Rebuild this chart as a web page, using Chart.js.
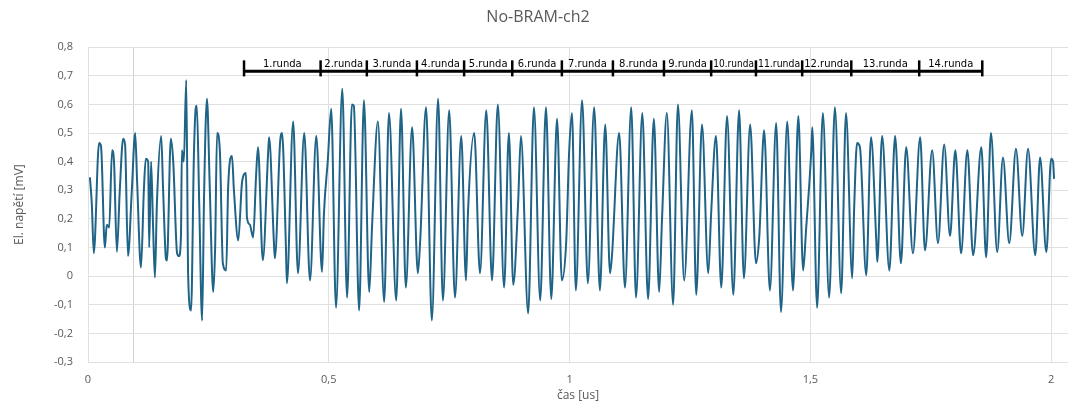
<!DOCTYPE html>
<html>
<head>
<meta charset="utf-8">
<script src="https://cdn.jsdelivr.net/npm/chart.js@4.4.1/dist/chart.umd.min.js"></script>
<style>
  html, body { margin: 0; padding: 0; background: #ffffff; }
  #wrap { width: 1077px; height: 403px; position: relative; }
</style>
</head>
<body>
<div id="wrap"><canvas id="c"></canvas></div>
<script>
// ---- data ----
const timeUs = [
  0.004,0.008,0.012,0.023,0.027,0.035,0.039,0.044,0.050,0.054,0.060,0.066,0.073,0.077,0.083,0.091,0.098,0.102,
  0.110,0.116,0.120,0.125,0.127,0.131,0.135,0.139,0.143,0.152,0.156,0.162,0.164,0.172,0.177,0.185,0.189,0.193,
  0.195,0.199,0.204,0.208,0.214,0.220,0.224,0.226,0.231,0.237,0.241,0.247,0.253,0.260,0.264,0.268,0.274,0.280,
  0.287,0.291,0.299,0.303,0.312,0.320,0.328,0.330,0.336,0.343,0.349,0.353,0.363,0.374,0.376,0.386,0.388,0.399,
  0.403,0.411,0.413,0.426,0.436,0.449,0.461,0.474,0.486,0.490,0.498,0.505,0.515,0.528,0.538,0.548,0.552,0.563,
  0.573,0.584,0.590,0.602,0.615,0.625,0.640,0.650,0.660,0.673,0.685,0.690,0.702,0.714,0.727,0.737,0.750,0.762,
  0.775,0.785,0.789,0.802,0.814,0.827,0.839,0.851,0.864,0.874,0.883,0.893,0.899,0.914,0.926,0.939,0.951,0.962,
  0.974,0.984,0.993,0.999,1.005,1.013,1.026,1.038,1.051,1.063,1.074,1.084,1.088,1.103,1.115,1.128,1.138,1.151,
  1.163,1.175,1.186,1.192,1.202,1.215,1.225,1.238,1.254,1.263,1.275,1.288,1.294,1.304,1.315,1.327,1.340,1.352,
  1.362,1.375,1.387,1.394,1.404,1.416,1.429,1.439,1.452,1.464,1.475,1.485,1.491,1.502,1.504,1.514,1.526,1.539,
  1.551,1.564,1.574,1.587,1.591,1.597,1.603,1.616,1.626,1.637,1.639,1.649,1.664,1.676,1.688,1.699,1.713,1.728,
  1.738,1.753,1.765,1.778,1.790,1.801,1.813,1.826,1.838,1.855,1.865,1.875,1.888,1.900,1.913,1.927,1.940,1.952,
  1.967,1.977,1.990,2.000,2.004,2.006
];
const voltageMv = [
  0.345,0.25,0.08,0.465,0.455,0.10,0.18,0.17,0.44,0.40,0.085,0.30,0.48,0.46,0.07,0.30,0.50,0.33,
  0.03,0.30,0.41,0.40,0.10,0.40,0.18,-0.005,0.25,0.49,0.30,0.06,0.055,0.48,0.40,0.08,0.07,0.14,
  0.44,0.40,0.685,0.0,-0.12,0.43,0.59,0.595,0.25,-0.155,0.28,0.62,0.30,-0.055,0.10,0.50,0.43,0.045,
  0.02,0.31,0.42,0.30,0.125,0.33,0.36,0.205,0.18,0.135,0.35,0.45,0.056,0.43,0.485,0.12,0.063,0.47,
  0.50,0.10,-0.025,0.54,0.01,0.50,-0.015,0.49,0.015,0.22,0.405,0.585,-0.11,0.655,-0.075,0.60,0.595,-0.12,
  0.615,-0.055,0.18,0.54,-0.09,0.57,-0.085,0.585,-0.04,0.52,0.01,0.13,0.59,-0.155,0.62,-0.085,0.58,-0.075,
  0.49,-0.015,0.22,0.50,0.01,0.58,-0.015,0.60,-0.04,0.50,-0.03,0.25,0.49,-0.13,0.59,-0.085,0.59,-0.08,
  0.55,-0.015,0.12,0.43,0.57,-0.05,0.615,-0.025,0.59,-0.05,0.53,0.01,0.07,0.50,-0.04,0.59,-0.075,0.57,
  -0.08,0.55,-0.055,0.20,0.57,-0.10,0.60,-0.015,0.58,-0.065,0.53,0.01,0.22,0.49,-0.04,0.56,-0.065,0.58,
  -0.007,0.53,0.045,0.14,0.51,-0.05,0.535,-0.125,0.54,-0.05,0.56,0.02,0.16,0.44,0.52,-0.11,0.57,-0.075,
  0.59,-0.06,0.57,-0.007,0.24,0.465,0.45,0.003,0.485,0.12,0.05,0.49,0.02,0.49,0.045,0.45,0.08,0.485,
  0.09,0.44,0.115,0.46,0.14,0.44,0.08,0.44,0.073,0.45,0.066,0.50,0.084,0.415,0.115,0.445,0.14,0.445,
  0.073,0.415,0.084,0.41,0.40,0.34
];
const xTickValues = [0, 0.5, 1, 1.5, 2];
const xExtraLine = 0.095;
const rundaBounds = [0.324,0.483,0.579,0.683,0.781,0.881,0.984,1.090,1.196,1.294,1.387,1.483,1.585,1.726,1.857];
const rundaLabels = ['1.runda','2.runda','3.runda','4.runda','5.runda','6.runda','7.runda','8.runda','9.runda','10.runda','11.runda','12.runda','13.runda','14.runda'];
const rundaBarLevel = 0.716;
const rundaTickTop = 0.754;
const rundaTickBottom = 0.698;

const fmt = v => { const r = Math.round(v * 10) / 10; return String(r).replace('.', ','); };

const rundaPlugin = {
  id: 'runda',
  afterDatasetsDraw(chart) {
    const ctx = chart.ctx, xs = chart.scales.x, ys = chart.scales.y;
    const yBar = ys.getPixelForValue(rundaBarLevel);
    const yT = ys.getPixelForValue(rundaTickTop);
    const yB = ys.getPixelForValue(rundaTickBottom);
    ctx.save();
    ctx.strokeStyle = '#000';
    ctx.lineWidth = 3;
    ctx.beginPath();
    ctx.moveTo(xs.getPixelForValue(rundaBounds[0]), yBar);
    ctx.lineTo(xs.getPixelForValue(rundaBounds[rundaBounds.length - 1]), yBar);
    ctx.stroke();
    ctx.lineWidth = 2.5;
    rundaBounds.forEach(b => {
      const px = xs.getPixelForValue(b);
      ctx.beginPath(); ctx.moveTo(px, yT); ctx.lineTo(px, yB); ctx.stroke();
    });
    ctx.fillStyle = '#000';
    ctx.font = '10px "DejaVu Sans", Verdana, sans-serif';
    ctx.textAlign = 'center';
    ctx.textBaseline = 'alphabetic';
    rundaLabels.forEach((lab, i) => {
      const a = xs.getPixelForValue(rundaBounds[i]);
      const b = xs.getPixelForValue(rundaBounds[i + 1]);
      const w = ctx.measureText(lab).width;
      const maxW = b - a - 4;
      if (w > maxW) {
        ctx.save();
        ctx.translate((a + b) / 2, yBar - 4);
        ctx.scale(maxW / w, 1);
        ctx.fillText(lab, 0, 0);
        ctx.restore();
      } else {
        ctx.fillText(lab, (a + b) / 2, yBar - 4);
      }
    });
    ctx.restore();
  }
};

const points = timeUs.map((t, i) => ({ x: t, y: voltageMv[i] }));
const gray = '#595959';
const fontFam = '"Open Sans", "Noto Sans", sans-serif';

new Chart(document.getElementById('c'), {
  type: 'line',
  data: { datasets: [{
    data: points,
    borderColor: '#1f6387',
    borderWidth: 2,
    pointRadius: 0,
    cubicInterpolationMode: 'monotone',
    fill: false
  }]},
  options: {
    responsive: true,
    maintainAspectRatio: false,
    animation: false,
    layout: { padding: { left: 8, right: 9, top: 0, bottom: 0 } },
    plugins: {
      legend: { display: false },
      tooltip: { enabled: false },
      title: {
        display: true,
        text: 'No-BRAM-ch2',
        color: gray,
        font: { family: fontFam, size: 16, weight: 'normal' },
        padding: { top: 8, bottom: 20 }
      }
    },
    scales: {
      x: {
        type: 'linear',
        min: 0,
        max: 2.035,
        afterBuildTicks(scale) {
          scale.ticks = [{ value: xExtraLine }].concat(xTickValues.map(v => ({ value: v })));
        },
        afterFit(scale) { scale.height = 41; },
        ticks: {
          color: gray,
          font: { family: fontFam, size: 11 },
          padding: 11,
          maxRotation: 0,
          autoSkip: false,
          callback: v => (v === xExtraLine ? '' : fmt(v))
        },
        grid: { color: ctx => (ctx.tick && ctx.tick.value === xExtraLine ? '#d0d0d0' : '#e0e0e0'), drawTicks: false, lineWidth: 1 },
        border: { display: false },
        title: {
          display: true,
          text: 'čas [us]',
          color: gray,
          font: { family: fontFam, size: 12 },
          padding: { top: 0, bottom: 0 }
        }
      },
      y: {
        min: -0.3,
        max: 0.8,
        afterFit(scale) { scale.width = 80; },
        ticks: {
          stepSize: 0.1,
          color: gray,
          font: { family: fontFam, size: 11 },
          padding: 15,
          callback: v => fmt(v)
        },
        grid: { color: '#e0e0e0', drawTicks: false, lineWidth: 1 },
        border: { display: false },
        title: {
          display: true,
          text: 'El. napětí [mV]',
          color: gray,
          font: { family: fontFam, size: 12 },
          padding: { top: 4, bottom: 4 }
        }
      }
    }
  },
  plugins: [rundaPlugin]
});
</script>
</body>
</html>
